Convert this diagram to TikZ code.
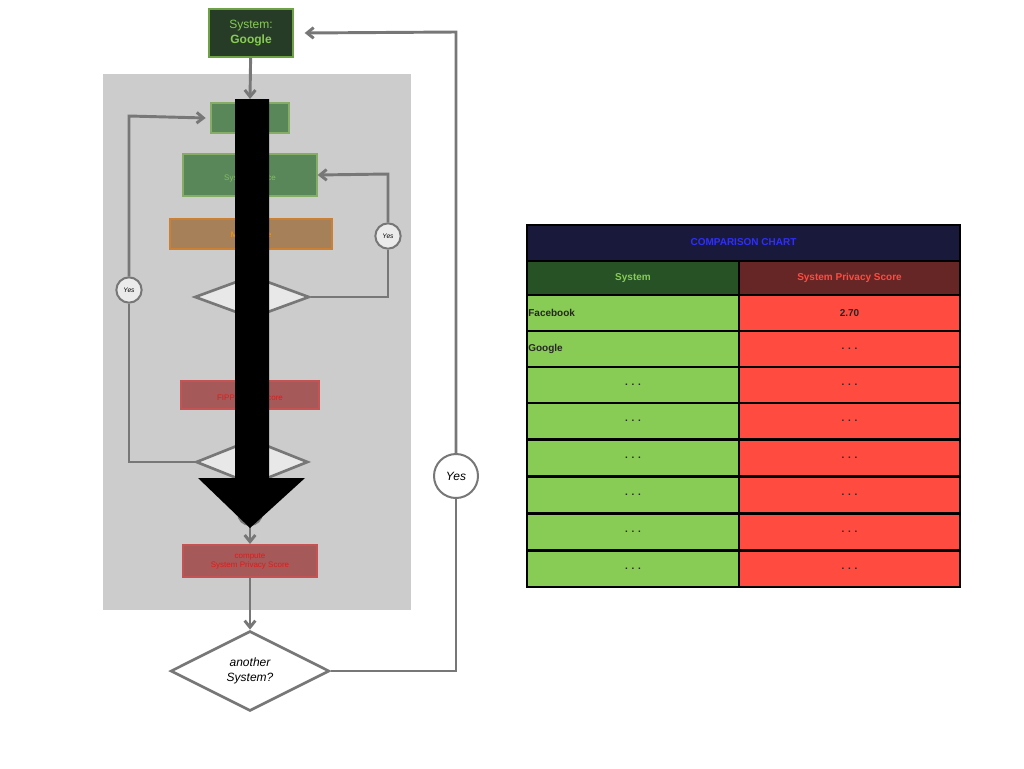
\documentclass[tikz,border=0pt]{standalone}
\usepackage{fontspec}
\setmainfont{Liberation Sans}
\usetikzlibrary{shapes.geometric,arrows.meta}
\definecolor{lg}{HTML}{88CC55}
\definecolor{rd}{HTML}{FF4B40}
\definecolor{ln}{HTML}{777777}
\begin{document}
\begin{tikzpicture}[x=0.75pt,y=-0.75pt,
 conn/.style={ln,line width=2.2pt,-{Straight Barb[length=5pt,width=8pt]}},
 seg/.style={ln,line width=2.2pt},
 box/.style={draw,line width=1.5pt,inner sep=0pt,align=center,font=\fontsize{6}{7}\selectfont},
 dia/.style={diamond,draw=ln,line width=2pt,fill=black!9,aspect=2.6,inner sep=0pt},
 yes/.style={circle,draw=ln,line width=1.5pt,fill=black!8,inner sep=0pt,minimum size=19pt,font=\fontsize{5}{6}\selectfont\itshape},
 cell/.style={draw=black,line width=1.5pt,inner sep=0pt,minimum height=27pt,font=\fontsize{7.5}{9}\selectfont\bfseries}]
\useasboundingbox (0,0) rectangle (1024,768);
\fill[black!20] (103,74) rectangle (411,610);
\node[box,fill=green!10!black!85,draw=lg!80!black,minimum width=63pt,minimum height=36pt,font=\fontsize{9}{11}\selectfont,text=lg] (sys) at (251,33) {System:\\\textbf{Google}};
\node[box,fill=black!40!green!30!gray,draw=lg!60!gray,minimum width=59pt,minimum height=23pt] (b1) at (250,118) {};
\node[box,fill=black!40!green!30!gray,draw=lg!60!gray,text=lg!80!gray,minimum width=100pt,minimum height=31pt] (b2) at (250,175) {\\[2pt]System Notice};
\node[box,fill=brown!60!gray,draw=orange!60!gray,text=orange!80!yellow,minimum width=121pt,minimum height=22pt] (b3) at (251,234) {\\[0pt]Map Notice};
\node[dia,minimum width=86pt,minimum height=32pt,font=\fontsize{6}{7}\selectfont\itshape] (d1) at (252,297) {\\[4pt]A};
\node[box,fill=red!30!gray,draw=red!50!gray!90,text=red!80!gray,minimum width=104pt,minimum height=21pt] (b4) at (250,395) {\\[1pt]FIPP Notice Score};
\node[dia,minimum width=84pt,minimum height=34pt] (d2) at (252,462) {};
\node[circle,draw=ln,line width=1.5pt,minimum size=18pt] (c) at (250,513) {};
\node[box,fill=red!30!gray,draw=red!50!gray!90,text=red!80!gray,minimum width=101pt,minimum height=24pt] (b5) at (250,561) {compute\\System Privacy Score};
\node[dia,fill=white,minimum width=119pt,minimum height=60pt,font=\fontsize{9}{11}\selectfont\itshape,align=center] (d3) at (250,671) {another\\System?};
\node[yes] (y1) at (388,236) {Yes};
\node[yes] (y2) at (129,290) {Yes};
\node[circle,draw=ln,line width=1.5pt,fill=white,inner sep=0pt,minimum size=33pt,font=\fontsize{9}{11}\selectfont\itshape] (y3) at (456,476) {Yes};
\coordinate (r1) at (388,297); \coordinate (r2) at (388,174);
\coordinate (l1) at (129,462); \coordinate (l2) at (129,116);
\coordinate (t1) at (456,671); \coordinate (t2) at (456,32);
\draw[conn] (sys) -- (250,99);
\draw[seg] (d1.east) -- (r1) -- (y1); \draw[conn] (y1) -- (r2) -- (b2.east);
\draw[seg] (d2.west) -- (l1) -- (y2); \draw[conn] (y2) -- (l2) -- ([xshift=-3pt]b1.west);
\draw[conn] (c) -- (b5);
\draw[conn] (b5) -- (d3);
\draw[seg] (d3.east) -- (t1) -- (y3); \draw[conn] (y3) -- (t2) -- ([xshift=8pt]sys.east);
\fill[black] (235,99) -- (269,99) -- (269,478) -- (305,478) -- (250,528) -- (198,478) -- (235,478) -- cycle;
% table
\node[cell,fill=blue!15!black!90,text=blue!70!white!60!blue,minimum width=325pt,minimum height=27pt] (th) at (743.5,242.5) {COMPARISON CHART};
\node[cell,fill=green!20!black!85,text=lg,minimum width=159pt,minimum height=26pt] (h1) at (633,278) {System};
\node[cell,fill=red!30!black!85,text=rd,minimum width=166pt,minimum height=26pt] (h2) at (849.5,278) {System Privacy Score};
\foreach \y/\a/\b [count=\i] in {313/Facebook/2.70,349/Google/{. . .},385/{. . .}/{. . .},421/{. . .}/{. . .},458/{. . .}/{. . .},495/{. . .}/{. . .},532/{. . .}/{. . .},569/{. . .}/{. . .}}{
 \ifnum\i<3
 \node[cell,fill=lg,text=black!85,minimum width=159pt,text width=157pt,align=left] (l\i) at (633,\y) {\a};
 \else
 \node[cell,fill=lg,text=black!85,minimum width=159pt] (l\i) at (633,\y) {\a};
 \fi
 \node[cell,fill=rd,text=black!85,minimum width=166pt] (r\i) at (849.5,\y) {\b};
}
\end{tikzpicture}
\end{document}
